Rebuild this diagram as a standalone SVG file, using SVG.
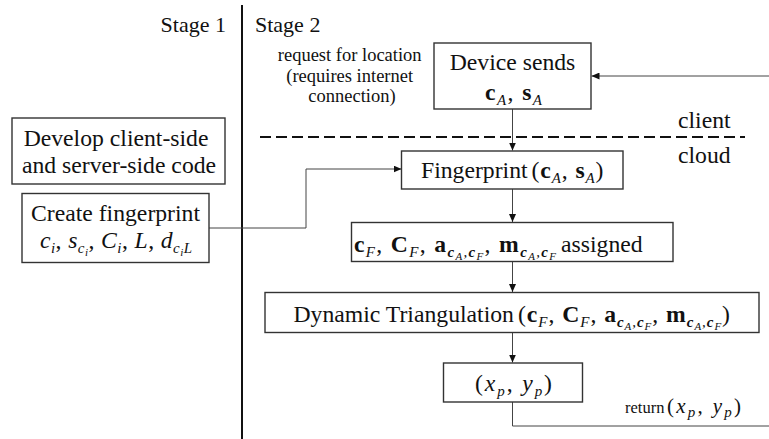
<svg xmlns="http://www.w3.org/2000/svg" width="769" height="439" viewBox="0 0 769 439">
  <style>
    text { font-family: "Liberation Serif", "Times New Roman", serif; fill: #111; }
    .main { font-size: 23.7px; }
    .stage { font-size: 22px; }
    .small { font-size: 18.5px; }
    .ret { font-size: 16.5px; }
    .box { fill: #fff; stroke: #333; stroke-width: 1.4; }
    .conn { fill: none; stroke: #444; stroke-width: 1; }
    .b { font-weight: bold; }
    .i { font-style: italic; }
    .s { font-size: 15px; font-style: italic; }
    .ss { font-size: 11px; font-style: italic; }
  </style>
  <defs>
    <marker id="arrow" markerUnits="userSpaceOnUse" markerWidth="8" markerHeight="7" refX="8" refY="3.5" orient="auto">
      <path d="M0,0 L8,3.5 L0,7 z" fill="#111"/>
    </marker>
  </defs>

  <!-- stage divider and client/cloud boundary -->
  <g id="dividers">
    <line x1="242" y1="5" x2="242" y2="439" stroke="#111" stroke-width="2"/>
    <line x1="260" y1="137" x2="745" y2="137" stroke="#111" stroke-width="2" stroke-dasharray="11 5"/>
  </g>

  <g id="labels">
    <text class="stage" x="226" y="32" text-anchor="end">Stage 1</text>
    <text class="stage" x="255" y="32">Stage 2</text>
    <text class="small" text-anchor="middle">
      <tspan x="352" y="61">request for location</tspan>
      <tspan x="352" y="82">(requires internet</tspan>
      <tspan x="352" y="102">connection)</tspan>
    </text>
    <text class="main" x="678" y="128">client</text>
    <text class="main" x="678" y="163">cloud</text>
    <text class="ret" x="625" y="413">return</text>
    <text x="667" y="413" font-size="21px" textLength="74" lengthAdjust="spacing">(<tspan class="i">x</tspan><tspan class="s" font-size="14px" dy="4">p</tspan><tspan dy="-4">, </tspan><tspan class="i">y</tspan><tspan class="s" font-size="14px" dy="4">p</tspan><tspan dy="-4">)</tspan></text>
  </g>

  <!-- connectors -->
  <g id="connectors">
    <path class="conn" d="M769,76 H591.5" marker-end="url(#arrow)"/>
    <path class="conn" d="M512.5,109 V150.5" marker-end="url(#arrow)"/>
    <path class="conn" d="M512.5,189 V222" marker-end="url(#arrow)"/>
    <path class="conn" d="M512.5,262 V292" marker-end="url(#arrow)"/>
    <path class="conn" d="M512.5,333 V362.5" marker-end="url(#arrow)"/>
    <path class="conn" d="M512.5,402 V426 H769"/>
    <path class="conn" d="M209,228 H306 V169 H401.5" marker-end="url(#arrow)"/>
  </g>

  <g id="develop">
    <rect class="box" x="12" y="118" width="213" height="66"/>
    <text class="main" text-anchor="middle">
      <tspan x="119" y="146">Develop client-side</tspan>
      <tspan x="119" y="173">and server-side code</tspan>
    </text>
  </g>

  <g id="create-fingerprint">
    <rect class="box" x="22" y="193.5" width="187" height="69"/>
    <text class="main" x="115.5" y="221" text-anchor="middle">Create fingerprint</text>
    <text class="main" x="40" y="248" textLength="152" lengthAdjust="spacing"><tspan class="i">c</tspan><tspan class="s" dy="5">i</tspan><tspan dy="-5">, </tspan><tspan class="i">s</tspan><tspan class="s" dy="5">c</tspan><tspan class="ss" dy="3">i</tspan><tspan dy="-8">, </tspan><tspan class="i">C</tspan><tspan class="s" dy="5">i</tspan><tspan dy="-5">, </tspan><tspan class="i">L</tspan><tspan>, </tspan><tspan class="i">d</tspan><tspan class="s" dy="5">c</tspan><tspan class="ss" dy="3">i</tspan><tspan class="s" dy="-3">L</tspan></text>
  </g>

  <g id="device-sends">
    <rect class="box" x="434" y="43" width="157" height="66"/>
    <text class="main" x="512.5" y="70" text-anchor="middle">Device sends</text>
    <text class="main" x="485" y="100" textLength="57" lengthAdjust="spacing"><tspan class="b">c</tspan><tspan class="s" dy="5">A</tspan><tspan dy="-5">, </tspan><tspan class="b">s</tspan><tspan class="s" dy="5">A</tspan></text>
  </g>

  <g id="fingerprint">
    <rect class="box" x="401.5" y="151" width="221.5" height="38"/>
    <text class="main" x="421" y="178">Fingerprint</text>
    <text class="main" x="531.5" y="178" textLength="72" lengthAdjust="spacing">(<tspan class="b">c</tspan><tspan class="s" dy="5">A</tspan><tspan dy="-5">, </tspan><tspan class="b">s</tspan><tspan class="s" dy="5">A</tspan><tspan dy="-5">)</tspan></text>
  </g>

  <g id="assigned">
    <rect class="box" x="351.5" y="222.5" width="321.5" height="39"/>
    <text class="main" x="354" y="252" textLength="202" lengthAdjust="spacing"><tspan class="b">c</tspan><tspan class="s" dy="5">F</tspan><tspan dy="-5">, </tspan><tspan class="b">C</tspan><tspan class="s" dy="5">F</tspan><tspan dy="-5">, </tspan><tspan class="b">a</tspan><tspan class="s b" dy="5">c</tspan><tspan class="ss" dy="3">A</tspan><tspan class="s" dy="-3">,</tspan><tspan class="s b">c</tspan><tspan class="ss" dy="3">F</tspan><tspan dy="-8">, </tspan><tspan class="b">m</tspan><tspan class="s b" dy="5">c</tspan><tspan class="ss" dy="3">A</tspan><tspan class="s" dy="-3">,</tspan><tspan class="s b">c</tspan><tspan class="ss" dy="3">F</tspan></text>
    <text class="main" x="561" y="252">assigned</text>
  </g>

  <g id="triangulation">
    <rect class="box" x="265" y="292.5" width="494" height="40"/>
    <text class="main" x="293.5" y="322">Dynamic Triangulation</text>
    <text class="main" x="518" y="322" textLength="212" lengthAdjust="spacing">(<tspan class="b">c</tspan><tspan class="s" dy="5">F</tspan><tspan dy="-5">, </tspan><tspan class="b">C</tspan><tspan class="s" dy="5">F</tspan><tspan dy="-5">, </tspan><tspan class="b">a</tspan><tspan class="s b" dy="5">c</tspan><tspan class="ss" dy="3">A</tspan><tspan class="s" dy="-3">,</tspan><tspan class="s b">c</tspan><tspan class="ss" dy="3">F</tspan><tspan dy="-8">, </tspan><tspan class="b">m</tspan><tspan class="s b" dy="5">c</tspan><tspan class="ss" dy="3">A</tspan><tspan class="s" dy="-3">,</tspan><tspan class="s b">c</tspan><tspan class="ss" dy="3">F</tspan><tspan dy="-8">)</tspan></text>
  </g>

  <g id="position">
    <rect class="box" x="443.5" y="363" width="139" height="39"/>
    <text class="main" x="475" y="391" textLength="77" lengthAdjust="spacing">(<tspan class="i">x</tspan><tspan class="s" dy="5">p</tspan><tspan dy="-5">, </tspan><tspan class="i">y</tspan><tspan class="s" dy="5">p</tspan><tspan dy="-5">)</tspan></text>
  </g>
</svg>
